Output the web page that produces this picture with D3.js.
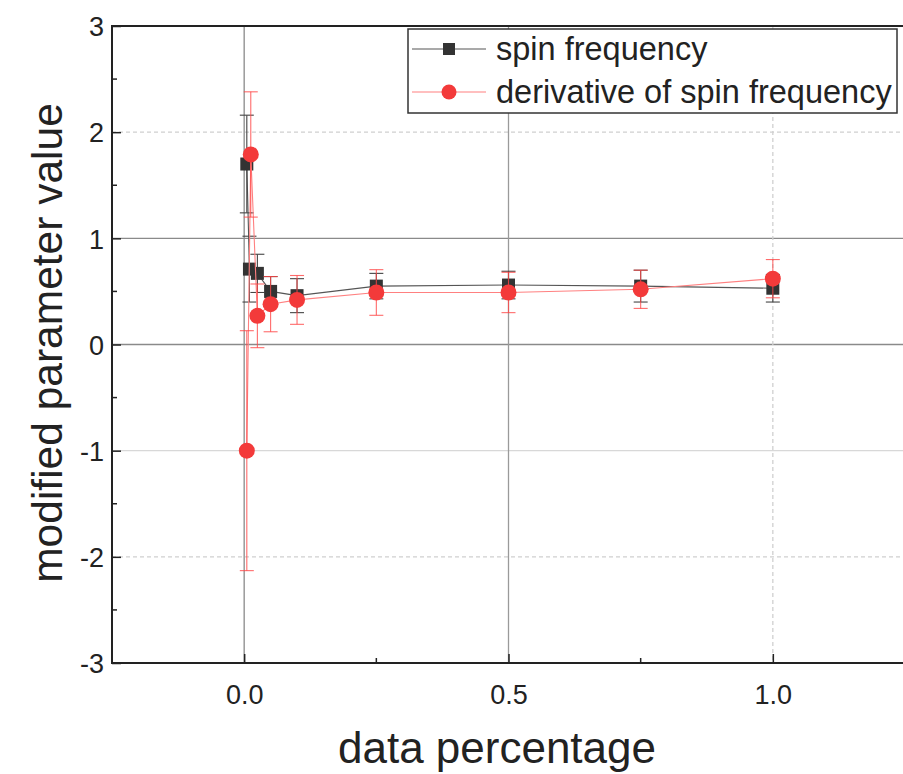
<!DOCTYPE html>
<html><head><meta charset="utf-8">
<script src="https://cdn.jsdelivr.net/npm/d3@7"></script>
<style>body{margin:0;background:#fff}svg{display:block}</style>
</head><body>
<svg id="chart" width="903" height="774"></svg>
<script>
const seriesNames = ["spin frequency", "derivative of spin frequency"];
const xSpin = [0.005, 0.01, 0.025, 0.05, 0.1, 0.25, 0.5, 0.75, 1.0];
const ySpin = [1.70, 0.71, 0.67, 0.50, 0.46, 0.55, 0.56, 0.55, 0.53];
const eSpin = [0.46, 0.31, 0.18, 0.14, 0.16, 0.12, 0.13, 0.15, 0.13];
const xDeriv = [0.005, 0.0125, 0.025, 0.05, 0.1, 0.25, 0.5, 0.75, 1.0];
const yDeriv = [-1.00, 1.79, 0.27, 0.38, 0.42, 0.49, 0.49, 0.52, 0.62];
const eDeriv = [1.13, 0.59, 0.30, 0.26, 0.23, 0.215, 0.19, 0.18, 0.18];
const xTicks = [0, 0.5, 1.0];
const xMinor = [-0.25, 0.25, 0.75, 1.25];
const yTicks = [-3, -2, -1, 0, 1, 2, 3];
const yMinor = [-2.5, -1.5, -0.5, 0.5, 1.5, 2.5];

const FONT = '"Liberation Sans", Arial, sans-serif';
const svg = d3.select("#chart");
const L = 112, R = 905, T = 26, B = 663;
const x = d3.scaleLinear().domain([-0.25, 1.25]).range([L, R]);
const y = d3.scaleLinear().domain([-3, 3]).range([B, T]);

// gridlines (styles mimic the reference's uneven rendering)
const yGridStyle = {"2": ["#d0d0d0", "4,3"], "1": ["#8a8a8a", null], "0": ["#8a8a8a", null], "-1": ["#d8d8d8", null], "-2": ["#d0d0d0", "4,3"]};
const xGridStyle = {"0": ["#8a8a8a", null], "0.5": ["#9a9a9a", null], "1": ["#d0d0d0", "4,3"]};
const g = svg.append("g");
[-2, -1, 0, 1, 2].forEach(v => {
  const s = yGridStyle[String(v)];
  g.append("line").attr("x1", L).attr("x2", R).attr("y1", y(v)).attr("y2", y(v))
    .attr("stroke", s[0]).attr("stroke-width", 1.3).attr("stroke-dasharray", s[1]);
});
xTicks.forEach(v => {
  const s = xGridStyle[String(v)];
  g.append("line").attr("x1", x(v)).attr("x2", x(v)).attr("y1", T).attr("y2", B)
    .attr("stroke", s[0]).attr("stroke-width", 1.3).attr("stroke-dasharray", s[1]);
});

// axes
const xAxis = d3.axisBottom(x).tickValues(xTicks).tickSize(-9).tickPadding(22).tickFormat(d3.format(".1f"));
const xAx = svg.append("g").attr("transform", `translate(0,${B})`).call(xAxis);
const yAxis = d3.axisLeft(y).tickValues(yTicks).tickSize(-9).tickPadding(8).tickFormat(d => String(d));
const yAx = svg.append("g").attr("transform", `translate(${L},0)`).call(yAxis);
[xAx, yAx].forEach(a => {
  a.select(".domain").remove();
  a.selectAll(".tick line").attr("stroke", "#222").attr("stroke-width", 1.5);
  a.selectAll(".tick text").attr("font-family", FONT).attr("font-size", 27).attr("fill", "#222");
});
yAx.selectAll(".tick text").attr("dy", "0.36em");
// minor ticks
svg.append("g").selectAll("line").data(xMinor).join("line")
  .attr("x1", d => x(d)).attr("x2", d => x(d)).attr("y1", B).attr("y2", B - 5)
  .attr("stroke", "#222").attr("stroke-width", 1.5);
svg.append("g").selectAll("line").data(yMinor).join("line")
  .attr("y1", d => y(d)).attr("y2", d => y(d)).attr("x1", L).attr("x2", L + 5)
  .attr("stroke", "#222").attr("stroke-width", 1.5);
// frame
svg.append("rect").attr("x", L).attr("y", T).attr("width", R - L).attr("height", B - T)
  .attr("fill", "none").attr("stroke", "#222").attr("stroke-width", 2);

// data
function drawSeries(xs, ys, es, lineCol, errCol, marker, mCol) {
  const pts = xs.map((d, i) => ({x: d, y: ys[i], e: es[i]}));
  const gg = svg.append("g");
  gg.append("path").datum(pts)
    .attr("d", d3.line().x(d => x(d.x)).y(d => y(d.y)))
    .attr("fill", "none").attr("stroke", lineCol).attr("stroke-width", 1.1);
  const eb = gg.append("g").attr("stroke", errCol).attr("stroke-width", 1.1);
  pts.forEach(d => {
    eb.append("line").attr("x1", x(d.x)).attr("x2", x(d.x)).attr("y1", y(d.y - d.e)).attr("y2", y(d.y + d.e));
    [d.y - d.e, d.y + d.e].forEach(v => eb.append("line")
      .attr("x1", x(d.x) - 7).attr("x2", x(d.x) + 7).attr("y1", y(v)).attr("y2", y(v)));
  });
  if (marker === "square") {
    gg.selectAll("rect.m").data(pts).join("rect").attr("class", "m")
      .attr("x", d => x(d.x) - 6.5).attr("y", d => y(d.y) - 6.5).attr("width", 13).attr("height", 13)
      .attr("fill", mCol);
  } else {
    gg.selectAll("circle.m").data(pts).join("circle").attr("class", "m")
      .attr("cx", d => x(d.x)).attr("cy", d => y(d.y)).attr("r", 8).attr("fill", mCol);
  }
}
drawSeries(xSpin, ySpin, eSpin, "#555", "#444", "square", "#333");
drawSeries(xDeriv, yDeriv, eDeriv, "#ff8080", "rgba(255,70,70,0.8)", "circle", "#f33a3a");

// legend
const lg = svg.append("g");
lg.append("rect").attr("x", 408).attr("y", 29).attr("width", 489).attr("height", 84)
  .attr("fill", "#fff").attr("stroke", "#333").attr("stroke-width", 1.5);
const rows = [
  {name: seriesNames[0], y: 49, col: "#555", marker: "square", mCol: "#333"},
  {name: seriesNames[1], y: 92, col: "#ff8080", marker: "circle", mCol: "#f33a3a"}
];
rows.forEach(r => {
  lg.append("line").attr("x1", 412).attr("x2", 486).attr("y1", r.y).attr("y2", r.y)
    .attr("stroke", r.col).attr("stroke-width", 1.2);
  if (r.marker === "square") lg.append("rect").attr("x", 443).attr("y", r.y - 6).attr("width", 12).attr("height", 12).attr("fill", r.mCol);
  else lg.append("circle").attr("cx", 449).attr("cy", r.y).attr("r", 7.5).attr("fill", r.mCol);
  lg.append("text").attr("x", 496).attr("y", r.y).attr("dy", "0.35em")
    .attr("font-family", FONT).attr("font-size", 32.5).attr("fill", "#222").text(r.name);
});

// axis titles
svg.append("text").attr("x", 497).attr("y", 763).attr("text-anchor", "middle")
  .attr("font-family", FONT).attr("font-size", 44).attr("fill", "#222").text("data percentage");
svg.append("text").attr("transform", `translate(62,343) rotate(-90)`).attr("text-anchor", "middle")
  .attr("font-family", FONT).attr("font-size", 42.5).attr("fill", "#222").text("modified parameter value");
</script>
</body></html>
